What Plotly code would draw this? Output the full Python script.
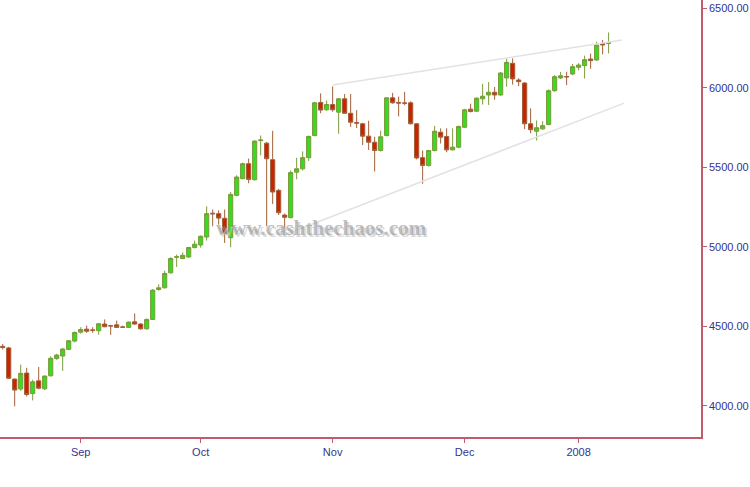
import plotly.graph_objects as go

dates = [
    "2007-08-14", "2007-08-16", "2007-08-17", "2007-08-20", "2007-08-21", "2007-08-22", "2007-08-23",
    "2007-08-24", "2007-08-27", "2007-08-28", "2007-08-29", "2007-08-30", "2007-08-31",
    "2007-09-03", "2007-09-04", "2007-09-05", "2007-09-06", "2007-09-07", "2007-09-10", "2007-09-11",
    "2007-09-12", "2007-09-13", "2007-09-14", "2007-09-17", "2007-09-18", "2007-09-19", "2007-09-20",
    "2007-09-21", "2007-09-24", "2007-09-25", "2007-09-26", "2007-09-27", "2007-09-28",
    "2007-10-01", "2007-10-03", "2007-10-04", "2007-10-05", "2007-10-08", "2007-10-09", "2007-10-10",
    "2007-10-11", "2007-10-12", "2007-10-15", "2007-10-16", "2007-10-17", "2007-10-18", "2007-10-19",
    "2007-10-22", "2007-10-23", "2007-10-24", "2007-10-25", "2007-10-26", "2007-10-29", "2007-10-30",
    "2007-10-31",
    "2007-11-01", "2007-11-02", "2007-11-05", "2007-11-06", "2007-11-07", "2007-11-08", "2007-11-09",
    "2007-11-12", "2007-11-13", "2007-11-14", "2007-11-15", "2007-11-16", "2007-11-19", "2007-11-20",
    "2007-11-21", "2007-11-22", "2007-11-23", "2007-11-26", "2007-11-27", "2007-11-28", "2007-11-29",
    "2007-11-30",
    "2007-12-03", "2007-12-04", "2007-12-05", "2007-12-06", "2007-12-07", "2007-12-10", "2007-12-11",
    "2007-12-12", "2007-12-13", "2007-12-14", "2007-12-17", "2007-12-18", "2007-12-19", "2007-12-20",
    "2007-12-24", "2007-12-26", "2007-12-27", "2007-12-28", "2007-12-31",
    "2008-01-01", "2008-01-02", "2008-01-03", "2008-01-04", "2008-01-07", "2008-01-08",
]

open_ = [
    4375, 4365, 4169, 4107, 4207, 4078, 4158, 4108, 4190, 4298, 4314, 4356, 4408,
    4464, 4483, 4478, 4473, 4515, 4505, 4510, 4497, 4494, 4529, 4515, 4485, 4544, 4732,
    4743, 4837, 4935, 4927, 4937, 4996,
    5012, 5062, 5212, 5209, 5180, 5058, 5324, 5429, 5523, 5422, 5668, 5652, 5548, 5355,
    5200, 5184, 5470, 5491, 5561, 5700, 5908, 5862,
    5895, 5847, 5931, 5840, 5782, 5774, 5696, 5658, 5606, 5700, 5937, 5908, 5905, 5906,
    5774, 5561, 5512, 5606, 5721, 5694, 5610, 5627,
    5752, 5866, 5853, 5931, 5955, 5972, 5955, 6062, 6154, 6049, 6030, 5774, 5727, 5742,
    5769, 5982, 6062, 6071, 6087,
    6129, 6140, 6181, 6175, 6279, 6279,
]

high = [
    4390, 4372, 4172, 4260, 4240, 4165, 4245, 4192, 4312, 4328, 4365, 4415, 4468,
    4495, 4505, 4495, 4522, 4544, 4510, 4537, 4505, 4532, 4582, 4520, 4550, 4735, 4765,
    4850, 4935, 4952, 4965, 5000, 5040,
    5072, 5255, 5235, 5230, 5235, 5345, 5450, 5530, 5555, 5670, 5700, 5660, 5730, 5365,
    5210, 5480, 5560, 5600, 5700, 5912, 5965, 5920,
    6008, 5935, 5961, 5961, 5860, 5780, 5793, 5692, 5730, 5940, 5968, 5945, 5975, 5915,
    5778, 5606, 5610, 5760, 5745, 5745, 5745, 5762,
    5868, 5900, 5940, 6025, 6036, 6005, 6100, 6182, 6185, 6060, 6035, 5871, 5795, 5790,
    5990, 6080, 6100, 6101, 6150,
    6155, 6202, 6215, 6290, 6300, 6348,
]

low = [
    4355, 4170, 3998, 4095, 4060, 4035, 4105, 4100, 4185, 4290, 4221, 4350, 4400,
    4455, 4460, 4460, 4448, 4495, 4447, 4490, 4492, 4490, 4510, 4480, 4480, 4540, 4725,
    4738, 4832, 4874, 4922, 4930, 4990,
    4995, 5040, 5130, 5140, 5025, 4998, 5318, 5425, 5400, 5418, 5575, 5130, 5270, 5200,
    5070, 5180, 5425, 5480, 5540, 5695, 5840, 5855,
    5850, 5711, 5835, 5755, 5747, 5640, 5609, 5474, 5600, 5695, 5900, 5820, 5890, 5770,
    5550, 5397, 5505, 5600, 5650, 5595, 5605, 5620,
    5748, 5845, 5848, 5895, 5892, 5925, 5950, 6007, 6020, 6010, 5740, 5714, 5669, 5735,
    5765, 5975, 6055, 6017, 6080,
    6110, 6058, 6120, 6170, 6210, 6216,
]

close = [
    4368, 4174, 4100, 4205, 4072, 4152, 4112, 4188, 4300, 4320, 4358, 4410, 4462,
    4481, 4470, 4476, 4517, 4498, 4503, 4494, 4495, 4527, 4515, 4485, 4544, 4728, 4743,
    4833, 4927, 4938, 4947, 4996, 5017,
    5067, 5209, 5208, 5181, 5085, 5330, 5439, 5523, 5424, 5665, 5672, 5554, 5345, 5215,
    5186, 5467, 5491, 5561, 5694, 5906, 5860, 5895,
    5862, 5931, 5840, 5784, 5778, 5696, 5658, 5606, 5692, 5937, 5906, 5904, 5903, 5774,
    5559, 5512, 5606, 5727, 5690, 5610, 5627, 5757,
    5862, 5851, 5935, 5947, 5972, 5955, 6093, 6160, 6056, 6039, 5774, 5737, 5749, 5762,
    5982, 6070, 6076, 6069, 6133,
    6143, 6177, 6171, 6269, 6269, 6285,
]

tick_months = ["2007-09", "2007-10", "2007-11", "2007-12", "2008-01"]
tick_labels = ["Sep", "Oct", "Nov", "Dec", "2008"]

y_ticks = [4000, 4500, 5000, 5500, 6000, 6500]

# trend lines (trading-day index, value)
upper_trend_x = [55.0, 103.2]
upper_trend_y = [6017, 6300]
lower_trend_x = [46.9, 103.6]
lower_trend_y = [5075, 5904]

x_idx = list(range(len(dates)))
tick_vals = [next(i for i, d in enumerate(dates) if d.startswith(m)) for m in tick_months]

axis_red = "#c25c6c"
label_blue = "#33338f"

fig = go.Figure()

for tx, ty in ((upper_trend_x, upper_trend_y), (lower_trend_x, lower_trend_y)):
    fig.add_trace(go.Scatter(
        x=tx, y=ty, mode="lines",
        line=dict(color="#e2e2e2", width=1.5),
        hoverinfo="skip", showlegend=False,
    ))

fig.add_trace(go.Candlestick(
    x=x_idx, open=open_, high=high, low=low, close=close,
    increasing=dict(fillcolor="#33dd22", line=dict(color="#7c9a3a", width=1)),
    decreasing=dict(fillcolor="#cc2200", line=dict(color="#a0603a", width=1)),
    whiskerwidth=0,
    showlegend=False,
))

# watermark (embossed look: light shadow + grey text)
fig.add_annotation(
    text="<b>www.cashthechaos.com</b>", xref="paper", yref="paper",
    x=0.458, y=0.478, showarrow=False, xshift=2, yshift=-2,
    font=dict(family="Liberation Serif, serif", size=21, color="rgba(205,205,205,0.75)"),
)
fig.add_annotation(
    text="<b>www.cashthechaos.com</b>", xref="paper", yref="paper",
    x=0.458, y=0.478, showarrow=False,
    font=dict(family="Liberation Serif, serif", size=21, color="rgba(140,140,140,0.55)"),
)

fig.update_layout(
    width=750, height=487,
    margin=dict(l=0, r=49, t=0, b=50),
    paper_bgcolor="white", plot_bgcolor="white",
    boxgap=0.3, boxgroupgap=0.0,
    showlegend=False,
    xaxis=dict(
        range=[-0.45, 116.4],
        rangeslider=dict(visible=False),
        tickvals=tick_vals, ticktext=tick_labels,
        showgrid=False, zeroline=False,
        showline=True, linecolor=axis_red, linewidth=1.5,
        ticks="outside", ticklen=4, tickcolor=axis_red,
        tickfont=dict(family="Arial, Liberation Sans, sans-serif", size=11, color=label_blue),
    ),
    yaxis=dict(
        side="right",
        range=[3805, 6552],
        tickvals=y_ticks, tickformat=".2f",
        showgrid=False, zeroline=False,
        showline=True, linecolor=axis_red, linewidth=1.5,
        ticks="outside", ticklen=4, tickcolor=axis_red,
        tickfont=dict(family="Arial, Liberation Sans, sans-serif", size=11, color=label_blue),
    ),
)

fig.write_html(
    "out.html",
    config={"displayModeBar": False},
    post_script="document.body.style.margin='0';",
)
